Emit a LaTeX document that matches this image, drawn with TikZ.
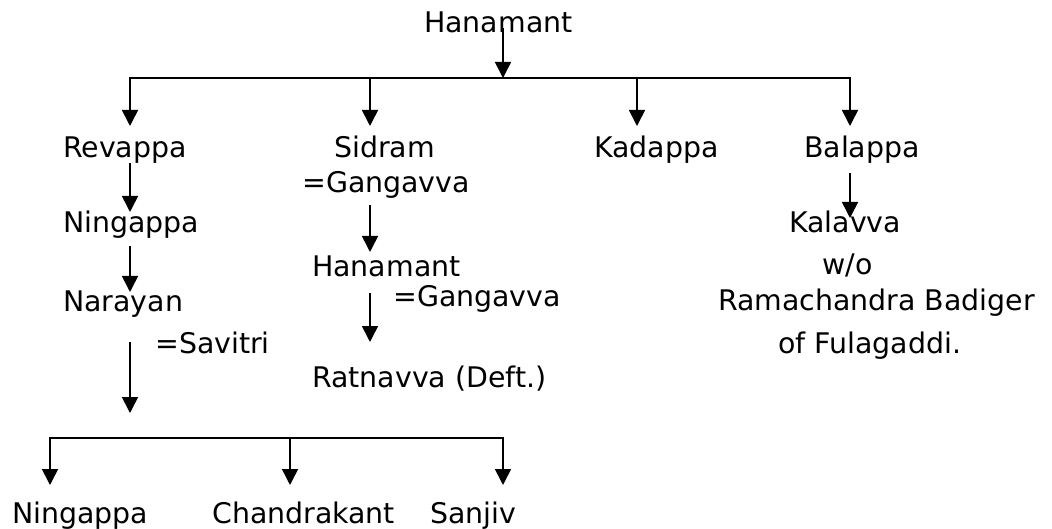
\documentclass[tikz,border=0pt]{standalone}
\usepackage{fontspec}
\setmainfont{DejaVu Sans}
\usetikzlibrary{arrows.meta}
\begin{document}
\begin{tikzpicture}[x=1pt,y=-1pt,
  lbl/.style={anchor=base west, inner sep=0pt, font=\fontsize{28.4}{34}\selectfont},
  link/.style={line width=1.6pt, black},
  bus/.style={link, line cap=rect},
  arr/.style={link, -{Triangle[width=16pt,length=16pt]}}]
\useasboundingbox[fill=white] (0,0) rectangle (1052,529);
% text nodes
\node[lbl] (top) at (424,33) {Hanamant};
\node[lbl] (rev) at (63,158) {Revappa};
\node[lbl] (sid) at (334,158) {Sidram};
\node[lbl] (sidw) at (302,193) {=Gangavva};
\node[lbl] (kad) at (594,158) {Kadappa};
\node[lbl] (bal) at (804,158) {Balappa};
\node[lbl] (nin) at (63,233) {Ningappa};
\node[lbl] (nar) at (63,312) {Narayan};
\node[lbl] (sav) at (155,353) {=Savitri};
\node[lbl] (han) at (312,277) {Hanamant};
\node[lbl] (hanw) at (393,307) {=Gangavva};
\node[lbl] (rat) at (312,387) {Ratnavva (Deft.)};
\node[lbl] (kal) at (789,233) {Kalavva};
\node[lbl] (wo) at (822,275) {w/o};
\node[lbl] (ram) at (718,310) {Ramachandra Badiger};
\node[lbl] (ful) at (778,353) {of Fulagaddi.};
\node[lbl] (ch1) at (12,523) {Ningappa};
\node[lbl] (ch2) at (212,523) {Chandrakant};
\node[lbl] (ch3) at (430,523) {Sanjiv};
% connector points
\coordinate (topS) at (503,28);
\coordinate (busT) at (503,78);
\coordinate (b1) at (130,78);
\coordinate (b2) at (370,78);
\coordinate (b3) at (637,78);
\coordinate (b4) at (850,78);
\coordinate (revN) at (130,126);
\coordinate (sidN) at (370,126);
\coordinate (kadN) at (637,126);
\coordinate (balN) at (850,126);
\coordinate (revS) at (130,163);
\coordinate (ninN) at (130,212);
\coordinate (ninS) at (130,246);
\coordinate (narN) at (130,292);
\coordinate (sidS) at (370,205);
\coordinate (hanN) at (370,252);
\coordinate (hanS) at (370,293);
\coordinate (ratN) at (370,342);
\coordinate (balS) at (850,173);
\coordinate (kalN) at (850,218);
\coordinate (narS) at (130,342);
\coordinate (bus2T) at (130,413);
\coordinate (c1) at (50,438);
\coordinate (c2) at (290,438);
\coordinate (c3) at (503,438);
\coordinate (ch1N) at (50,485);
\coordinate (ch2N) at (290,485);
\coordinate (ch3N) at (503,485);
% connectors
\draw[arr] (topS) -- (busT);
\draw[bus] (b1) -- (b4);
\draw[arr] (b1) -- (revN);
\draw[arr] (b2) -- (sidN);
\draw[arr] (b3) -- (kadN);
\draw[arr] (b4) -- (balN);
\draw[arr] (revS) -- (ninN);
\draw[arr] (ninS) -- (narN);
\draw[arr] (sidS) -- (hanN);
\draw[arr] (hanS) -- (ratN);
\draw[arr] (balS) -- (kalN);
\draw[arr] (narS) -- (bus2T);
\draw[bus] (c1) -- (c3);
\draw[arr] (c1) -- (ch1N);
\draw[arr] (c2) -- (ch2N);
\draw[arr] (c3) -- (ch3N);
\end{tikzpicture}
\end{document}
